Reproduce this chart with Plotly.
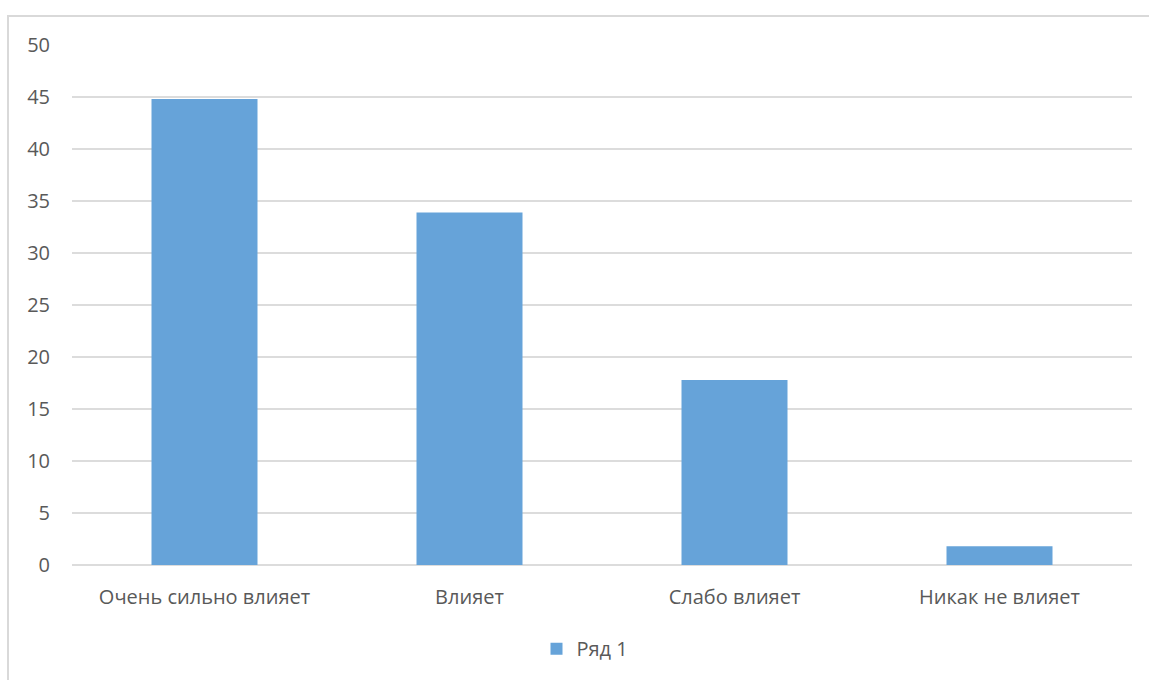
import plotly.graph_objects as go

categories = ["Очень сильно влияет", "Влияет", "Слабо влияет", "Никак не влияет"]
values = [44.8, 33.9, 17.8, 1.8]
series_name = "Ряд 1"
y_ticks = [0, 5, 10, 15, 20, 25, 30, 35, 40, 45, 50]

W, H = 1149, 680
L, R, T, B = 72, 17, 45, 113
pw, ph = W - L - R, H - T - B


def px_x(x):
    return (x - L) / pw


def px_y(y):
    return (H - B - y) / ph


fig = go.Figure(
    go.Bar(
        x=categories,
        y=values,
        name=series_name,
        marker=dict(color="#66a3d9", line=dict(width=0)),
        showlegend=True,
    )
)

grid = "#dcdcdc"
text_color = "#595959"
fs = 20
fig.update_layout(
    width=W,
    height=H,
    margin=dict(l=L, r=R, t=T, b=B),
    paper_bgcolor="white",
    plot_bgcolor="white",
    bargap=0.6,
    font=dict(family="Open Sans, Noto Sans, sans-serif", size=fs, color=text_color),
    showlegend=True,
    legend=dict(
        orientation="h",
        x=px_x(585),
        xanchor="center",
        y=px_y(651),
        yanchor="middle",
        font=dict(size=fs, color=text_color),
        itemwidth=30,
    ),
    xaxis=dict(
        showgrid=False,
        showline=False,
        ticks="outside",
        ticklen=14,
        tickcolor="rgba(0,0,0,0)",
        tickfont=dict(size=fs, color=text_color),
    ),
    yaxis=dict(
        range=[0, 50],
        tickvals=y_ticks,
        showgrid=True,
        gridcolor=grid,
        gridwidth=2,
        zeroline=True,
        zerolinecolor=grid,
        zerolinewidth=2,
        showline=False,
        ticks="outside",
        ticklen=17,
        tickcolor="rgba(0,0,0,0)",
        tickfont=dict(size=fs, color=text_color),
    ),
    shapes=[
        dict(type="line", xref="paper", yref="paper",
             x0=px_x(7), x1=px_x(W + 5), y0=px_y(16), y1=px_y(16),
             line=dict(color="#d9d9d9", width=2)),
        dict(type="line", xref="paper", yref="paper",
             x0=px_x(8), x1=px_x(8), y0=px_y(16), y1=px_y(H + 5),
             line=dict(color="#d9d9d9", width=2)),
    ],
)

fig.write_html("out.html")
